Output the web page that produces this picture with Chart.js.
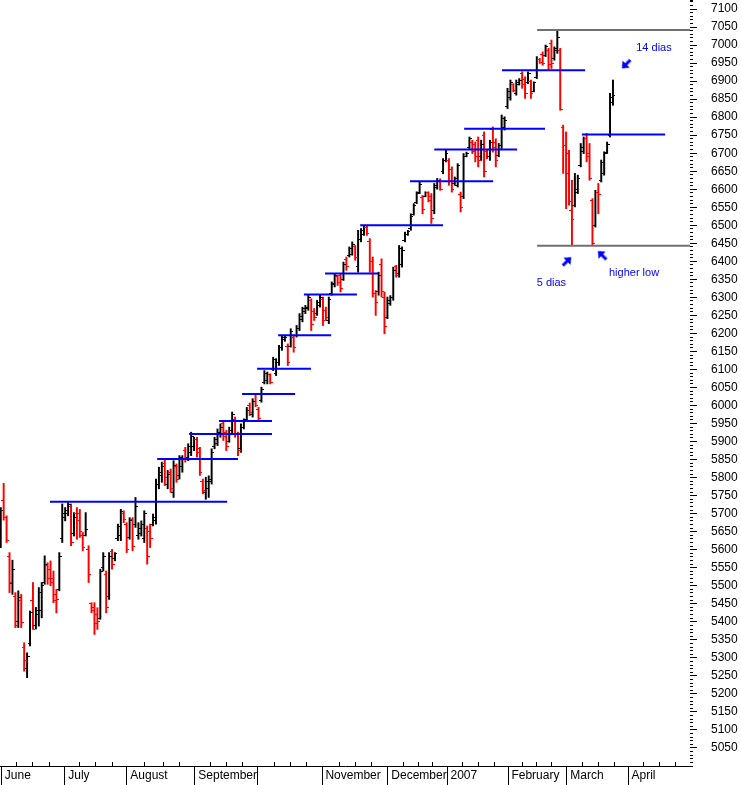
<!DOCTYPE html>
<html>
<head>
<meta charset="utf-8">
<script src="https://cdn.jsdelivr.net/npm/chart.js@4.4.1/dist/chart.umd.min.js"></script>
<style>
html, body { margin: 0; padding: 0; background: #fff; }
canvas { display: block; }
</style>
</head>
<body>
<canvas id="daxChart" width="741" height="785"></canvas>
<script>
// daily bars, June 2006 - March 2007
const opens = [
  5650, 5736, 5688, 5580, 5505, 5470, 5400, 5460, 5330, 5270,
  5340, 5458, 5390, 5420, 5430, 5510, 5555, 5545, 5520, 5475,
  5490, 5630, 5690, 5700, 5720, 5645, 5700, 5700, 5640, 5640,
  5600, 5450, 5440, 5420, 5410, 5550, 5530, 5470, 5595, 5575,
  5630, 5640, 5700, 5670, 5635, 5685, 5670, 5640, 5645, 5630,
  5660, 5650, 5670, 5680, 5780, 5805, 5840, 5780, 5815, 5760,
  5830, 5805, 5830, 5875, 5855, 5870, 5885, 5905, 5880, 5790,
  5760, 5770, 5790, 5885, 5895, 5920, 5950, 5925, 5900, 5930,
  5960, 5920, 5880, 5940, 5960, 6000, 5975, 6030, 5990, 6015,
  6065, 6070, 6085, 6100, 6090, 6120, 6160, 6182, 6165, 6165,
  6190, 6195, 6215, 6240, 6260, 6270, 6290, 6262, 6255, 6278,
  6295, 6265, 6235, 6310, 6335, 6358, 6360, 6350, 6405, 6415,
  6420, 6440, 6385, 6460, 6475, 6495, 6455, 6400, 6310, 6315,
  6390, 6300, 6245, 6282, 6300, 6385, 6365, 6390, 6458, 6475,
  6490, 6530, 6562, 6590, 6578, 6580, 6590, 6580, 6540, 6605,
  6625, 6650, 6680, 6680, 6655, 6615, 6610, 6585, 6580, 6692,
  6715, 6730, 6725, 6735, 6690, 6750, 6705, 6690, 6765, 6730,
  6695, 6720, 6770, 6830, 6855, 6890, 6865, 6890, 6920, 6905,
  6895, 6898, 6872, 6910, 6961, 6975, 6970, 6985, 7005, 6962,
  6985, 6985, 6770, 6720, 6700, 6540, 6555, 6590, 6665, 6705,
  6740, 6700, 6570, 6500, 6590, 6625, 6645, 6702, 6750, 6840
];
const highs = [
  5717, 5784, 5694, 5592, 5571, 5481, 5486, 5476, 5342, 5314,
  5430, 5509, 5440, 5495, 5509, 5583, 5564, 5569, 5541, 5490,
  5592, 5727, 5717, 5731, 5727, 5703, 5717, 5712, 5648, 5703,
  5611, 5453, 5453, 5439, 5546, 5592, 5541, 5592, 5601, 5592,
  5671, 5712, 5708, 5675, 5689, 5689, 5745, 5675, 5680, 5708,
  5666, 5671, 5699, 5796, 5829, 5843, 5852, 5820, 5824, 5847,
  5838, 5861, 5861, 5884, 5894, 5926, 5912, 5912, 5884, 5796,
  5801, 5805, 5880, 5912, 5935, 5949, 5958, 5931, 5940, 5982,
  5968, 5926, 5949, 5963, 5995, 6007, 6019, 6034, 5995, 6051,
  6097, 6093, 6088, 6134, 6130, 6167, 6194, 6194, 6171, 6213,
  6194, 6222, 6255, 6273, 6278, 6306, 6296, 6269, 6292, 6306,
  6301, 6273, 6301, 6343, 6366, 6361, 6366, 6398, 6412, 6440,
  6454, 6444, 6486, 6491, 6500, 6500, 6463, 6412, 6319, 6370,
  6407, 6315, 6301, 6305, 6384, 6389, 6444, 6440, 6481, 6486,
  6532, 6560, 6593, 6620, 6583, 6593, 6593, 6588, 6616, 6630,
  6629, 6685, 6708, 6685, 6662, 6634, 6671, 6592, 6699, 6703,
  6745, 6736, 6731, 6745, 6736, 6759, 6708, 6736, 6773, 6740,
  6727, 6806, 6801, 6880, 6903, 6893, 6903, 6907, 6926, 6912,
  6926, 6903, 6898, 6968, 6963, 6981, 7000, 6991, 7014, 6995,
  7040, 6991, 6778, 6759, 6708, 6625, 6644, 6639, 6727, 6745,
  6755, 6727, 6574, 6597, 6616, 6681, 6704, 6731, 6866, 6903
];
const lows = [
  5606, 5682, 5620, 5481, 5476, 5384, 5384, 5384, 5263, 5245,
  5333, 5379, 5380, 5388, 5411, 5504, 5504, 5500, 5453, 5425,
  5486, 5620, 5680, 5694, 5611, 5638, 5629, 5634, 5597, 5638,
  5509, 5425, 5365, 5379, 5407, 5541, 5425, 5462, 5546, 5569,
  5625, 5625, 5675, 5592, 5629, 5597, 5662, 5629, 5638, 5620,
  5560, 5606, 5666, 5671, 5769, 5787, 5778, 5769, 5759, 5745,
  5787, 5796, 5815, 5843, 5847, 5861, 5875, 5857, 5806, 5755,
  5740, 5745, 5782, 5880, 5889, 5912, 5903, 5875, 5898, 5921,
  5912, 5861, 5870, 5935, 5958, 5972, 5968, 5997, 5958, 6009,
  6060, 6060, 6060, 6097, 6083, 6111, 6153, 6178, 6111, 6162,
  6148, 6190, 6208, 6232, 6255, 6264, 6208, 6236, 6250, 6273,
  6222, 6236, 6227, 6306, 6329, 6333, 6315, 6347, 6375, 6412,
  6417, 6403, 6370, 6454, 6472, 6472, 6370, 6301, 6250, 6306,
  6301, 6199, 6241, 6278, 6292, 6356, 6356, 6384, 6454, 6472,
  6486, 6528, 6560, 6588, 6532, 6579, 6565, 6505, 6532, 6600,
  6597, 6643, 6676, 6611, 6592, 6611, 6606, 6537, 6574, 6690,
  6713, 6699, 6676, 6662, 6680, 6634, 6685, 6680, 6703, 6662,
  6690, 6713, 6764, 6824, 6847, 6870, 6861, 6889, 6880, 6852,
  6893, 6852, 6870, 6907, 6949, 6944, 6968, 6931, 6935, 6958,
  6977, 6819, 6644, 6546, 6556, 6444, 6551, 6588, 6662, 6699,
  6676, 6625, 6444, 6495, 6532, 6620, 6639, 6699, 6745, 6833
];
const closes = [
  5710, 5690, 5625, 5510, 5546, 5390, 5467, 5398, 5293, 5305,
  5425, 5380, 5430, 5480, 5500, 5560, 5520, 5510, 5460, 5462,
  5580, 5700, 5710, 5725, 5620, 5690, 5680, 5650, 5605, 5655,
  5530, 5430, 5395, 5400, 5540, 5580, 5440, 5580, 5560, 5590,
  5665, 5705, 5685, 5600, 5680, 5610, 5720, 5660, 5670, 5700,
  5580, 5630, 5690, 5780, 5815, 5830, 5800, 5810, 5770, 5835,
  5795, 5855, 5850, 5850, 5885, 5915, 5905, 5870, 5815, 5765,
  5790, 5795, 5870, 5905, 5925, 5940, 5915, 5885, 5930, 5975,
  5920, 5875, 5940, 5955, 5985, 5980, 6010, 6000, 5965, 6045,
  6090, 6085, 6065, 6128, 6120, 6160, 6188, 6190, 6120, 6205,
  6160, 6215, 6248, 6268, 6272, 6300, 6225, 6245, 6285, 6300,
  6235, 6245, 6295, 6338, 6360, 6340, 6325, 6390, 6385, 6435,
  6448, 6410, 6460, 6485, 6495, 6478, 6400, 6310, 6285, 6360,
  6315, 6220, 6290, 6300, 6375, 6362, 6435, 6430, 6475, 6482,
  6525, 6555, 6588, 6612, 6545, 6590, 6570, 6520, 6610, 6625,
  6600, 6680, 6700, 6625, 6600, 6630, 6665, 6550, 6690, 6700,
  6740, 6705, 6690, 6680, 6725, 6650, 6690, 6730, 6715, 6680,
  6720, 6795, 6790, 6870, 6895, 6875, 6895, 6902, 6890, 6865,
  6920, 6865, 6895, 6960, 6952, 6950, 6995, 6945, 6950, 6990,
  7020, 6822, 6720, 6645, 6565, 6515, 6600, 6630, 6715, 6740,
  6690, 6630, 6450, 6590, 6585, 6675, 6700, 6725, 6855, 6860
];

// axis: month separators (bar index) and their labels
const monthTicks = [0.26, 21.9, 43.1, 66.3, 87.8, 109.7, 132.2, 152.4, 173.2, 193.3, 214.2];
const monthLabels = ["June", "July", "August", "September", "", "November", "December", "2007", "February", "March", "April"];
const weekTicks = [5.5, 11, 16.5, 27, 32.5, 38, 49, 55.5, 61, 71.5, 77, 82.5, 93.5, 99, 104.5,
  115.5, 121, 126.5, 137.5, 142.5, 147.5, 157.5, 163, 168.5, 178, 183, 188, 198.5, 204, 209.5,
  219.5, 225, 230.5];

// horizontal levels drawn on the chart
const levelFrom = [16.8, 53.4, 64.3, 74.5, 82.4, 87.5, 94.7, 103.5, 110.7, 122.7, 139.7, 148.0, 158.2, 171.1, 183.1, 183.1, 198.4];
const levelTo = [77.3, 81.0, 92.6, 92.6, 100.5, 105.9, 112.8, 121.6, 128.8, 151.0, 168.1, 176.3, 185.8, 199.5, 235.3, 235.3, 226.8];
const levelValue = [5733, 5852, 5921, 5957, 6032, 6102, 6195, 6308, 6366, 6500, 6622, 6710, 6768, 6930, 7042, 6443, 6752];
const rangeLevels = [14, 15];

// notes
const noteText = ["14 dias", "5 dias", "higher low"];
const noteX = [223.0, 188.0, 216.2];
const noteY = [6992, 6339, 6367];
const arrowX = [213.5, 193.3, 205.3];
const arrowY = [6947, 6400, 6417];
const arrowAngle = [225, 45, -45];

const RED = "#ff0000";
const BLACK = "#000000";
const BLUE = "#0000ff";
const GRAY = "#707070";

function tickImage(color, side) {
  const c = document.createElement("canvas");
  c.width = 5; c.height = 1;
  const g = c.getContext("2d");
  g.fillStyle = color;
  g.fillRect(side < 0 ? 0 : 3, 0, 2, 1);
  return c;
}
// short mark: "up" px above the axis, "down" px below it
function axisMark(up, down) {
  const h = 2 * Math.max(up, down);
  const c = document.createElement("canvas");
  c.width = 1; c.height = h;
  const g = c.getContext("2d");
  g.fillStyle = BLACK;
  g.fillRect(0, h / 2 - up, 1, up + down);
  return c;
}
function arrowImage() {
  const c = document.createElement("canvas");
  c.width = 10; c.height = 12;
  const g = c.getContext("2d");
  g.fillStyle = BLUE;
  g.beginPath();
  g.moveTo(5, 0); g.lineTo(10, 6); g.lineTo(6.5, 6); g.lineTo(6.5, 12);
  g.lineTo(3.5, 12); g.lineTo(3.5, 6); g.lineTo(0, 6);
  g.closePath(); g.fill();
  return c;
}

const openBlack = tickImage(BLACK, -1), openRed = tickImage(RED, -1);
const closeBlack = tickImage(BLACK, 1), closeRed = tickImage(RED, 1);
const arrow = arrowImage();

const idx = opens.map((_, i) => i);
const isDown = idx.map(i => closes[i] < opens[i]);

const levelSets = levelValue.map((v, k) => ({
  type: "line",
  data: [{ x: levelFrom[k], y: v }, { x: levelTo[k], y: v }],
  borderColor: rangeLevels.includes(k) ? GRAY : BLUE,
  borderWidth: 2,
  pointRadius: 0,
  order: 0
}));

const notesPlugin = {
  id: "notes",
  afterDatasetsDraw(chart) {
    const { ctx, scales: { x, y } } = chart;
    ctx.save();
    ctx.font = "11px 'Liberation Sans', Arial, sans-serif";
    ctx.fillStyle = BLUE;
    ctx.textAlign = "center";
    ctx.textBaseline = "middle";
    noteText.forEach((t, k) => ctx.fillText(t, x.getPixelForValue(noteX[k]), y.getPixelForValue(noteY[k])));
    ctx.restore();
  }
};

Chart.defaults.font.family = "'Liberation Sans', Arial, sans-serif";
Chart.defaults.font.size = 12;
Chart.defaults.color = BLACK;

new Chart(document.getElementById("daxChart"), {
  type: "bar",
  data: {
    datasets: [
      ...levelSets,
      {
        type: "scatter",
        data: arrowX.map((v, k) => ({ x: v, y: arrowY[k] })),
        pointStyle: arrow,
        rotation: ctx => arrowAngle[ctx.dataIndex],
        pointRadius: 5,
        order: 0
      },
      {
        type: "scatter",
        data: idx.map(i => ({ x: i, y: opens[i] })),
        pointStyle: ctx => isDown[ctx.dataIndex] ? openRed : openBlack,
        pointRadius: 2,
        order: 1
      },
      {
        type: "scatter",
        data: idx.map(i => ({ x: i, y: closes[i] })),
        pointStyle: ctx => isDown[ctx.dataIndex] ? closeRed : closeBlack,
        pointRadius: 2,
        order: 1
      },
      {
        type: "bar",
        data: idx.map(i => ({ x: i, y: [lows[i], highs[i]] })),
        backgroundColor: idx.map(i => isDown[i] ? RED : BLACK),
        borderWidth: 0,
        barThickness: 1.3,
        grouped: false,
        order: 2
      },
      {
        type: "scatter",
        data: weekTicks.map(v => ({ x: v, y: 5000 })),
        pointStyle: axisMark(4, 0),
        pointRadius: 2,
        clip: false,
        order: 3
      },
      {
        type: "scatter",
        data: monthTicks.map(v => ({ x: v, y: 5000 })),
        pointStyle: axisMark(0, 20),
        pointRadius: 2,
        clip: false,
        order: 3
      }
    ]
  },
  options: {
    responsive: false,
    animation: false,
    events: [],
    layout: { autoPadding: false, padding: { left: 0, top: 0, right: 3, bottom: 0.6 } },
    plugins: { legend: { display: false }, tooltip: { enabled: false } },
    scales: {
      x: {
        type: "linear",
        min: -0.25,
        max: 235.3,
        bounds: "data",
        offset: false,
        afterBuildTicks: s => { s.ticks = monthTicks.map(v => ({ value: v })); },
        afterFit: s => { s.paddingLeft = 0; s.paddingRight = 0; },
        ticks: {
          autoSkip: false,
          maxRotation: 0,
          align: "start",
          padding: 2,
          callback: (v, k) => " " + monthLabels[k]
        },
        grid: { drawOnChartArea: false, drawTicks: false, offset: false },
        border: { display: true, color: BLACK, width: 1 }
      },
      yMinor: {
        type: "linear",
        position: "right",
        weight: 0,
        min: 5000,
        max: 7125,
        bounds: "data",
        afterFit: s => { s.paddingTop = 0; s.paddingBottom = 0; s.width = 3; },
        ticks: { display: false, stepSize: 10, includeBounds: false },
        grid: { drawOnChartArea: false, tickLength: 3, color: BLACK },
        border: { display: false }
      },
      y: {
        type: "linear",
        position: "right",
        weight: 1,
        min: 5000,
        max: 7125,
        bounds: "data",
        afterFit: s => { s.paddingTop = 0; s.paddingBottom = 0; s.width = 45; },
        ticks: {
          stepSize: 50,
          includeBounds: false,
          padding: 14,
          callback: v => (v > 5000 && v % 50 === 0) ? String(v) : null
        },
        grid: { drawOnChartArea: false, tickLength: 4, color: BLACK },
        border: { display: false }
      }
    }
  },
  plugins: [notesPlugin]
});
</script>
</body>
</html>
